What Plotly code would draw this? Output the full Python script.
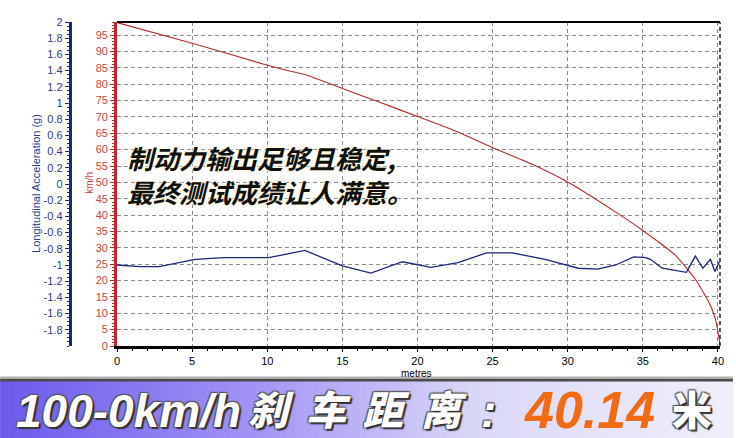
import plotly.graph_objects as go

# ---------------- data ----------------
dist_speed = [0, 5, 10, 10.8, 12.6, 15.0, 17.4, 20.1, 22.7, 24.9, 27.6, 30.0,
              33.3, 35.0, 37.2, 38.5, 39.4, 39.8, 40.07, 40.14]
speed_kmh = [98.8, 92.5, 85.8, 84.8, 82.8, 78.7, 74.6, 70.0, 65.4, 60.8, 55.6, 50.1,
             40.6, 35.3, 27.6, 20.4, 13.4, 8.8, 2.6, 0.3]

dist_accel = [0, 1.5, 2.8, 5.2, 7.1, 10.1, 12.5, 15.0, 16.9, 19.0, 20.9, 22.7, 24.6,
              26.3, 28.5, 30.7, 32.0, 33.2, 34.4, 35.2, 35.5, 36.3, 37.9, 38.5,
              39.0, 39.5, 39.8, 40.1]
accel_g = [-1.00, -1.02, -1.02, -0.93, -0.91, -0.91, -0.82, -1.01, -1.10, -0.96, -1.03,
           -0.97, -0.85, -0.85, -0.93, -1.04, -1.05, -1.00, -0.90, -0.91, -0.93, -1.04,
           -1.09, -0.89, -1.04, -0.93, -1.08, -0.96]

x_ticks = [0, 5, 10, 15, 20, 25, 30, 35, 40]
kmh_ticks = list(range(0, 100, 5))
g_tickvals = [-1.8, -1.6, -1.4, -1.2, -1.0, -0.8, -0.6, -0.4, -0.2, 0,
              0.2, 0.4, 0.6, 0.8, 1.0, 1.2, 1.4, 1.6, 1.8, 2.0]
g_ticktext = ["-1.8", "-1.6", "-1.4", "-1.2", "-1", "-0.8", "-0.6", "-0.4", "-0.2", "0",
              "0.2", "0.4", "0.6", "0.8", "1", "1.2", "1.4", "1.6", "1.8", "2"]

note_text = "制动力输出足够且稳定,<br>最终测试成绩让人满意。"
banner_left = "100-0km/h"
banner_cjk = ["刹", "车", "距", "离"]
banner_colon = ":"
banner_value = "40.14"
banner_unit = "米"

# ---------------- geometry helpers ----------------
W, H = 736, 438
ML, MR, MT, MB = 20, 13, 22, 92
PW = W - ML - MR
PH = H - MT - MB


def xp(px):
    return (px - ML) / PW


def yp(py):
    return (H - MB - py) / PH


BLUE = "#1c2580"
BLUE_TXT = "#2c3c8c"
RED = "#c0282d"
RED_TXT = "#c84444"
GRID = "#8a8a8a"

fig = go.Figure()
fig.add_trace(go.Scatter(x=dist_speed, y=speed_kmh, mode="lines",
                         line=dict(color="#b22a2a", width=1.1, shape="spline", smoothing=0.4),
                         yaxis="y", showlegend=False, hoverinfo="skip"))
fig.add_trace(go.Scatter(x=dist_accel, y=accel_g, mode="lines",
                         line=dict(color=BLUE, width=1.3), yaxis="y2",
                         showlegend=False, hoverinfo="skip"))

tickfont = dict(family="Liberation Sans, Arial, sans-serif", size=11)

fig.update_layout(
    width=W, height=H,
    margin=dict(l=ML, r=MR, t=MT, b=MB, pad=0),
    paper_bgcolor="white", plot_bgcolor="white",
    xaxis=dict(domain=[xp(117.5), 1], range=[0, 40.14], tickvals=x_ticks,
               showgrid=True, gridcolor=GRID, griddash="4px,3px", gridwidth=1,
               zeroline=False, showline=True, linecolor="black", linewidth=3,
               ticks="outside", ticklen=3, tickcolor="black",
               minor=dict(dtick=1, tick0=0, ticks="outside", ticklen=2, tickcolor="black", showgrid=False),
               tickfont=dict(tickfont, color="black")),
    yaxis=dict(range=[0, 99], tickvals=kmh_ticks, anchor="x",
               showgrid=True, gridcolor=GRID, griddash="4px,3px", gridwidth=1,
               zeroline=False, showline=True, linecolor=RED, linewidth=3,
               ticks="outside", ticklen=4, tickcolor=RED,
               minor=dict(dtick=1, tick0=0, ticks="outside", ticklen=2, tickcolor=RED, showgrid=False),
               tickfont=dict(tickfont, color=RED_TXT)),
    yaxis2=dict(range=[-2, 2], tickvals=g_tickvals, ticktext=g_ticktext,
                overlaying="y", side="left", anchor="free", position=xp(70),
                showgrid=False, zeroline=False, showline=True, linecolor=BLUE, linewidth=3,
                ticks="outside", ticklen=4, tickcolor=BLUE,
                minor=dict(dtick=0.05, tick0=0, ticks="outside", ticklen=2, tickcolor=BLUE, showgrid=False),
                tickfont=dict(tickfont, color=BLUE_TXT)),
)

shapes = []
# plot frame: solid top, dashed right
shapes.append(dict(type="line", xref="x domain", yref="y domain", x0=0, x1=1, y0=1, y1=1,
                   line=dict(color="black", width=2)))
shapes.append(dict(type="line", xref="x domain", yref="y domain", x0=1, x1=1, y0=0, y1=1,
                   line=dict(color="black", width=1.3, dash="4px,3px")))

# banner gradient
stops = [(0, (108, 90, 236)), (250, (160, 146, 245)), (480, (218, 216, 247)), (736, (240, 240, 251))]


def col_at(px):
    for (a, ca), (b, cb) in zip(stops[:-1], stops[1:]):
        if a <= px <= b:
            t = (px - a) / (b - a)
            return "rgb(%d,%d,%d)" % tuple(round(ca[i] + (cb[i] - ca[i]) * t) for i in range(3))
    return "rgb(240,240,251)"


n = 92
step = W / n
for i in range(n):
    x0 = i * step
    shapes.append(dict(type="rect", xref="paper", yref="paper", layer="above",
                       x0=xp(x0), x1=xp(x0 + step + 0.6), y0=yp(440), y1=yp(381),
                       fillcolor=col_at(x0 + step / 2), line=dict(width=0)))
shapes.append(dict(type="rect", xref="paper", yref="paper", layer="above",
                   x0=xp(0), x1=xp(736), y0=yp(381.5), y1=yp(378.5),
                   fillcolor="#4a4a4a", line=dict(width=0)))
shapes.append(dict(type="rect", xref="paper", yref="paper", layer="above",
                   x0=xp(0), x1=xp(736), y0=yp(378.5), y1=yp(376.5),
                   fillcolor="#b0b0b0", line=dict(width=0)))
fig.update_layout(shapes=shapes)

ann = []
lab = dict(family="Liberation Sans, Arial, sans-serif", size=11)
ann.append(dict(text="Longitudinal Acceleration (g)", xref="paper", yref="paper",
                x=xp(36), y=yp(183), textangle=-90, showarrow=False,
                font=dict(lab, color=BLUE_TXT), xanchor="center", yanchor="middle"))
ann.append(dict(text="km/h", xref="paper", yref="paper", x=xp(89), y=yp(183),
                textangle=-90, showarrow=False, font=dict(lab, color=RED_TXT, size=10),
                xanchor="center", yanchor="middle"))
ann.append(dict(text="metres", xref="paper", yref="paper", x=xp(418), y=yp(373),
                showarrow=False, font=dict(lab, color="black", size=10),
                xanchor="center", yanchor="middle"))

ann.append(dict(text=note_text, xref="paper", yref="paper", x=xp(125), y=yp(174),
                xanchor="left", yanchor="middle", align="left", showarrow=False,
                font=dict(family="Noto Sans CJK SC", size=26, color="#111111",
                          weight="bold", style="italic",
                          shadow="0 0 3px #fffbe0, 0 0 3px #fffbe0, 0 0 2px #fffbe0")))

white_shadow = "2px 2px 1px #333333, -1px -1px 1px #555555, 1px -1px 1px #555555, -1px 1px 1px #555555"
ann.append(dict(text=banner_left, xref="paper", yref="paper", x=xp(14), y=yp(411),
                xanchor="left", yanchor="middle", showarrow=False,
                font=dict(family="Liberation Sans, Arial, sans-serif", size=46, color="white",
                          weight="bold", style="italic", shadow=white_shadow)))
for ch, cx in zip(banner_cjk, [272, 330, 388, 446]):
    ann.append(dict(text=ch, xref="paper", yref="paper", x=xp(cx), y=yp(408),
                    xanchor="center", yanchor="middle", showarrow=False,
                    font=dict(family="Noto Sans CJK SC", size=40, color="white",
                              weight=900, style="italic", shadow=white_shadow)))
ann.append(dict(text=banner_colon, xref="paper", yref="paper", x=xp(491), y=yp(411),
                xanchor="center", yanchor="middle", showarrow=False,
                font=dict(family="Liberation Sans, Arial, sans-serif", size=46, color="white",
                          weight="bold", style="italic", shadow=white_shadow)))
ann.append(dict(text=banner_value, xref="paper", yref="paper", x=xp(592), y=yp(410),
                xanchor="center", yanchor="middle", showarrow=False,
                font=dict(family="Liberation Sans, Arial, sans-serif", size=52, color="#f26a12",
                          weight="bold", style="italic")))
ann.append(dict(text=banner_unit, xref="paper", yref="paper", x=xp(695), y=yp(408),
                xanchor="center", yanchor="middle", showarrow=False,
                font=dict(family="Noto Sans CJK SC", size=40, color="white",
                          weight=900, shadow=white_shadow)))
fig.update_layout(annotations=ann)

fig.write_html("out.html", config={"displayModeBar": False},
               post_script="document.body.style.margin='0px';document.body.style.overflow='hidden';")
